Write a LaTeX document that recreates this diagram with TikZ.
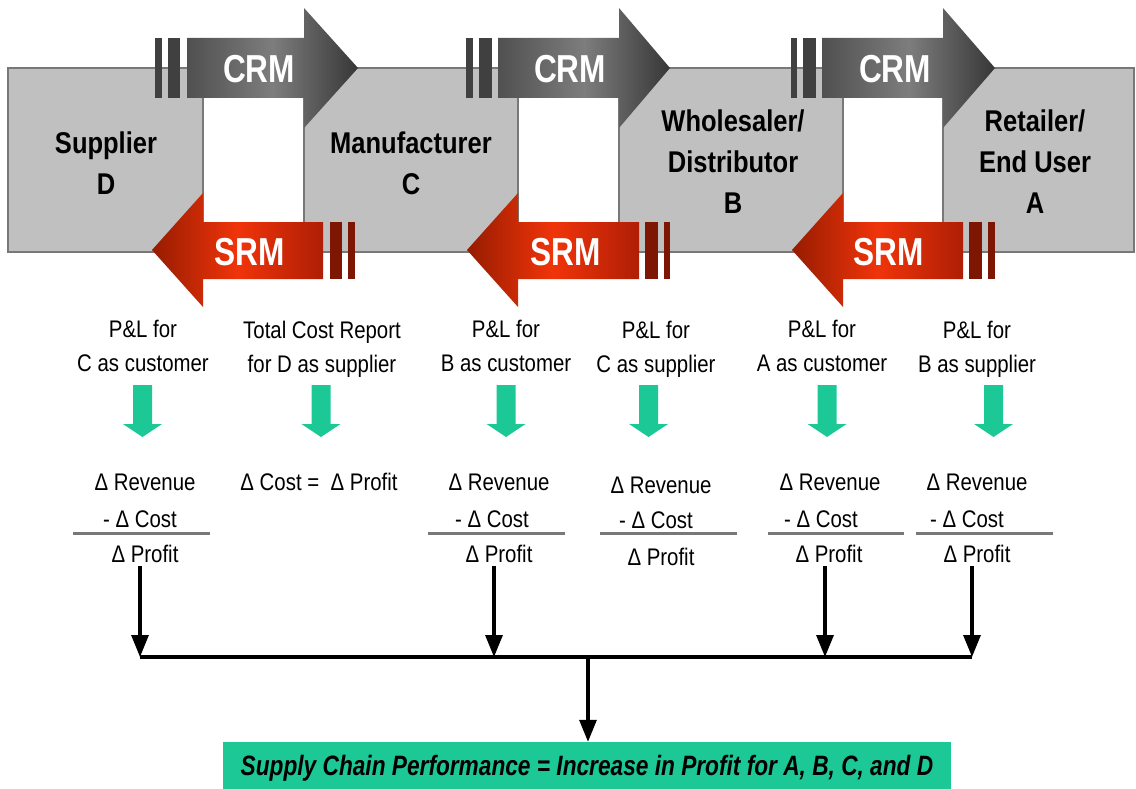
\documentclass[tikz,border=0pt]{standalone}
\usepackage{fontspec}
\setmainfont{Liberation Sans}
\newfontfamily\narrowfont[FakeStretch=0.85]{Liberation Sans}
\newfontfamily\condfont[FakeStretch=0.81]{Liberation Sans}
\usepackage{xcolor}
\usetikzlibrary{arrows.meta,positioning}

\definecolor{boxgray}{RGB}{192,192,192}
\definecolor{boxline}{RGB}{120,120,120}
\definecolor{perfgreen}{RGB}{28,200,150}
\definecolor{crmdark}{RGB}{64,64,64}
\definecolor{srmdark}{RGB}{125,22,2}

\tikzset{
  partybox/.style={fill=boxgray, draw=boxline, line width=1.2pt},
  party/.style={font=\narrowfont\bfseries\fontsize{30}{41}\selectfont, align=center},
  crmshade/.style={left color={rgb,255:red,80;green,80;blue,80}, right color={rgb,255:red,55;green,55;blue,55}, middle color={rgb,255:red,125;green,125;blue,125}},
  srmshade/.style={left color={rgb,255:red,150;green,28;blue,0}, right color={rgb,255:red,175;green,30;blue,5}, middle color={rgb,255:red,240;green,52;blue,10}},
  crmbar/.style={fill=crmdark},
  srmbar/.style={fill=srmdark},
  relabel/.style={text=white, font=\condfont\bfseries\fontsize{39}{42}\selectfont},
  report/.style={font=\narrowfont\fontsize{24}{34}\selectfont, align=center},
  greenarrow/.style={fill=perfgreen},
  delta/.style={anchor=base, font=\narrowfont\fontsize{24}{28}\selectfont},
  rule/.style={draw=boxline, line width=3pt},
  flow/.style={line width=3.2pt, -{Triangle[width=17pt,length=22pt]}},
  bus/.style={line width=3.8pt},
  perfbox/.style={fill=perfgreen, minimum width=728pt, minimum height=52pt, inner sep=0pt,
    font=\condfont\bfseries\itshape\fontsize{28}{32}\selectfont}
}

\begin{document}
\begin{tikzpicture}[x=1pt,y=-1pt]
    \useasboundingbox (0,0) rectangle (1136,789);
    % 绘制灰色方框
    \draw[partybox] (8,68) rectangle (203,252);
    \draw[partybox] (304,68) rectangle (518,252);
    \draw[partybox] (619,68) rectangle (843,252);
    \draw[partybox] (943,68) rectangle (1134,252);
    \node[party] (supD) at (106,163) {Supplier\\D};
    \node[party] (manC) at (411,163) {Manufacturer\\C};
    \node[party] (wholB) at (733,162) {Wholesaler/\\Distributor\\B};
    \node[party] (retA) at (1035,162) {Retailer/\\End User\\A};
    % 绘制CRM箭头
    \path[crmshade] (187,38) -- (304,38) -- (304,8) -- (358,68) -- (304,128) -- (304,98) -- (187,98) -- cycle;
    \fill[crmbar] (155,38) rectangle (162,98);
    \fill[crmbar] (168,38) rectangle (180,98);
    \node[relabel] (crm1) at (259,69) {CRM};
    \path[crmshade] (498,38) -- (619,38) -- (619,8) -- (670,68) -- (619,128) -- (619,98) -- (498,98) -- cycle;
    \fill[crmbar] (466,38) rectangle (473,98);
    \fill[crmbar] (479,38) rectangle (492,98);
    \node[relabel] (crm2) at (570,69) {CRM};
    \path[crmshade] (822,38) -- (943,38) -- (943,8) -- (995,68) -- (943,128) -- (943,98) -- (822,98) -- cycle;
    \fill[crmbar] (791,38) rectangle (797,98);
    \fill[crmbar] (803,38) rectangle (816,98);
    \node[relabel] (crm3) at (895,69) {CRM};
    % 绘制SRM箭头
    \path[srmshade] (323,222) -- (203,222) -- (203,193) -- (152,250) -- (203,307) -- (203,279) -- (323,279) -- cycle;
    \fill[srmbar] (330,222) rectangle (342,279);
    \fill[srmbar] (348,222) rectangle (355,279);
    \node[relabel] (srm1) at (250,252) {SRM};
    \path[srmshade] (639,222) -- (518,222) -- (518,193) -- (467,250) -- (518,307) -- (518,279) -- (639,279) -- cycle;
    \fill[srmbar] (645,222) rectangle (658,279);
    \fill[srmbar] (664,222) rectangle (670,279);
    \node[relabel] (srm2) at (566,252) {SRM};
    \path[srmshade] (963,222) -- (843,222) -- (843,193) -- (792,250) -- (843,307) -- (843,279) -- (963,279) -- cycle;
    \fill[srmbar] (969,222) rectangle (982,279);
    \fill[srmbar] (988,222) rectangle (995,279);
    \node[relabel] (srm3) at (889,252) {SRM};
    % 报表标签
    \node[report] (plC) at (143,346) {P\&L for\\C as customer};
    \node[report] (tcD) at (322,349) {Total Cost Report\\for D as supplier};
    \node[report] (plB) at (506,346) {P\&L for\\B as customer};
    \node[report] (plCs) at (656,349) {P\&L for\\C as supplier};
    \node[report] (plA) at (822,346) {P\&L for\\A as customer};
    \node[report] (plBs) at (977,349) {P\&L for\\B as supplier};
    % 绿色箭头
    \fill[greenarrow] (133,385) -- ++(19,0) -- ++(0,39) -- ++(10,0) -- ++(-19.5,13) -- ++(-19.5,-13) -- ++(10,0) -- cycle;
    \fill[greenarrow] (311.5,385) -- ++(19,0) -- ++(0,39) -- ++(10,0) -- ++(-19.5,13) -- ++(-19.5,-13) -- ++(10,0) -- cycle;
    \fill[greenarrow] (496.5,385) -- ++(19,0) -- ++(0,39) -- ++(10,0) -- ++(-19.5,13) -- ++(-19.5,-13) -- ++(10,0) -- cycle;
    \fill[greenarrow] (639,385) -- ++(19,0) -- ++(0,39) -- ++(10,0) -- ++(-19.5,13) -- ++(-19.5,-13) -- ++(10,0) -- cycle;
    \fill[greenarrow] (817.5,385) -- ++(19,0) -- ++(0,39) -- ++(10,0) -- ++(-19.5,13) -- ++(-19.5,-13) -- ++(10,0) -- cycle;
    \fill[greenarrow] (984,385) -- ++(19,0) -- ++(0,39) -- ++(10,0) -- ++(-19.5,13) -- ++(-19.5,-13) -- ++(10,0) -- cycle;
    % 利润公式
    \node[delta] (rev1) at (145,490) {Δ Revenue};
    \node[delta] (cost1) at (140,527) {- Δ Cost};
    \draw[rule] (73,533) -- (210,533);
    \node[delta] (prof1) at (145,562) {Δ Profit};
    \node[delta] (costD) at (319,490) {Δ Cost =~~Δ Profit};
    \node[delta] (rev3) at (499,490) {Δ Revenue};
    \node[delta] (cost3) at (492,527) {- Δ Cost};
    \draw[rule] (428,533) -- (565,533);
    \node[delta] (prof3) at (499,562) {Δ Profit};
    \node[delta] (rev4) at (661,493) {Δ Revenue};
    \node[delta] (cost4) at (656,528) {- Δ Cost};
    \draw[rule] (600,533) -- (737,533);
    \node[delta] (prof4) at (661,565) {Δ Profit};
    \node[delta] (rev5) at (830,490) {Δ Revenue};
    \node[delta] (cost5) at (821,527) {- Δ Cost};
    \draw[rule] (768,533) -- (904,533);
    \node[delta] (prof5) at (829,562) {Δ Profit};
    \node[delta] (rev6) at (977,490) {Δ Revenue};
    \node[delta] (cost6) at (967,527) {- Δ Cost};
    \draw[rule] (916,533) -- (1053,533);
    \node[delta] (prof6) at (977,562) {Δ Profit};
    % 汇总
    \node[perfbox] (perf) at (587,768) {Supply Chain Performance = Increase in Profit for A, B, C, and D};
    \coordinate (j1) at (140,657);
    \coordinate (j3) at (494,657);
    \coordinate (j5) at (825,657);
    \coordinate (j6) at (972,657);
    \coordinate (jm) at (588,657);
    \draw[bus] (j1) -- (j6);
    \draw[flow] (prof1.south -| j1) -- (j1);
    \draw[flow] (prof3.south -| j3) -- (j3);
    \draw[flow] (prof5.south -| j5) -- (j5);
    \draw[flow] (prof6.south -| j6) -- (j6);
    \draw[flow] (jm) -- (jm |- perf.north);
\end{tikzpicture}
\end{document}
